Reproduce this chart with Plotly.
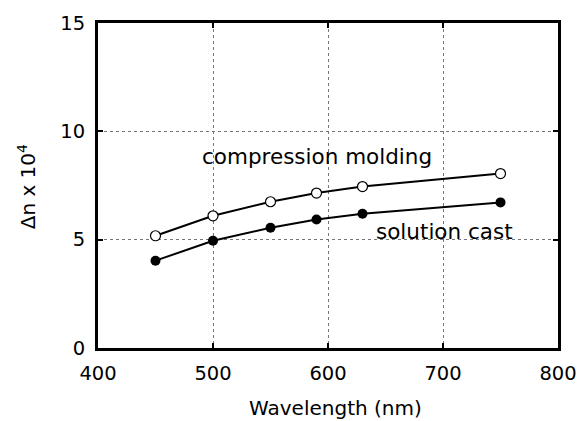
import plotly.graph_objects as go

wavelength = [450, 500, 550, 590, 630, 750]
compression_molding = [5.18, 6.1, 6.75, 7.15, 7.45, 8.05]
solution_cast = [4.03, 4.95, 5.55, 5.93, 6.2, 6.72]
x_ticks = [400, 500, 600, 700, 800]
y_ticks = [0, 5, 10, 15]

FONT = "DejaVu Sans"
INK = "#000"

fig = go.Figure()
fig.add_trace(go.Scatter(
    x=wavelength, y=compression_molding, mode="lines+markers",
    line=dict(color="black", width=2),
    marker=dict(symbol="circle", size=10, color="white", line=dict(color="black", width=1.2)),
    showlegend=False))
fig.add_trace(go.Scatter(
    x=wavelength, y=solution_cast, mode="lines+markers",
    line=dict(color="black", width=2),
    marker=dict(symbol="circle", size=10, color="black"),
    showlegend=False))

fig.add_annotation(x=590, y=8.84, text="compression molding", showarrow=False,
                   font=dict(family=FONT, size=21.5, color=INK))
fig.add_annotation(x=701, y=5.37, text="solution cast", showarrow=False,
                   font=dict(family=FONT, size=21.5, color=INK))

# axis titles as paper-positioned annotations
fig.add_annotation(xref="paper", yref="paper", x=0.517, y=-0.185, yanchor="middle",
                   text="Wavelength (nm)", showarrow=False,
                   font=dict(family=FONT, size=20, color=INK))
fig.add_annotation(xref="paper", yref="paper", x=-0.154, y=0.495, xanchor="center", yanchor="middle",
                   textangle=-90, text="Δn x 10<sup>4</sup>", showarrow=False,
                   font=dict(family=FONT, size=20, color=INK))

axis_common = dict(
    showline=True, linecolor="black", linewidth=3, mirror="ticks",
    ticks="inside", ticklen=5, tickwidth=2, tickcolor="black",
    showgrid=True, gridcolor="#777", griddash="dot", gridwidth=1,
    zeroline=False, automargin=False,
    tickfont=dict(family=FONT, size=19.5, color=INK),
)

fig.update_xaxes(range=[400, 800], tickvals=x_ticks, ticklabelstandoff=6, **axis_common)
fig.update_yaxes(range=[0, 15], tickvals=y_ticks, ticklabelstandoff=6, **axis_common)

fig.update_layout(
    width=582, height=421,
    margin=dict(l=98, r=24, t=23, b=73),
    plot_bgcolor="white", paper_bgcolor="white",
)

fig.write_html("out.html")
